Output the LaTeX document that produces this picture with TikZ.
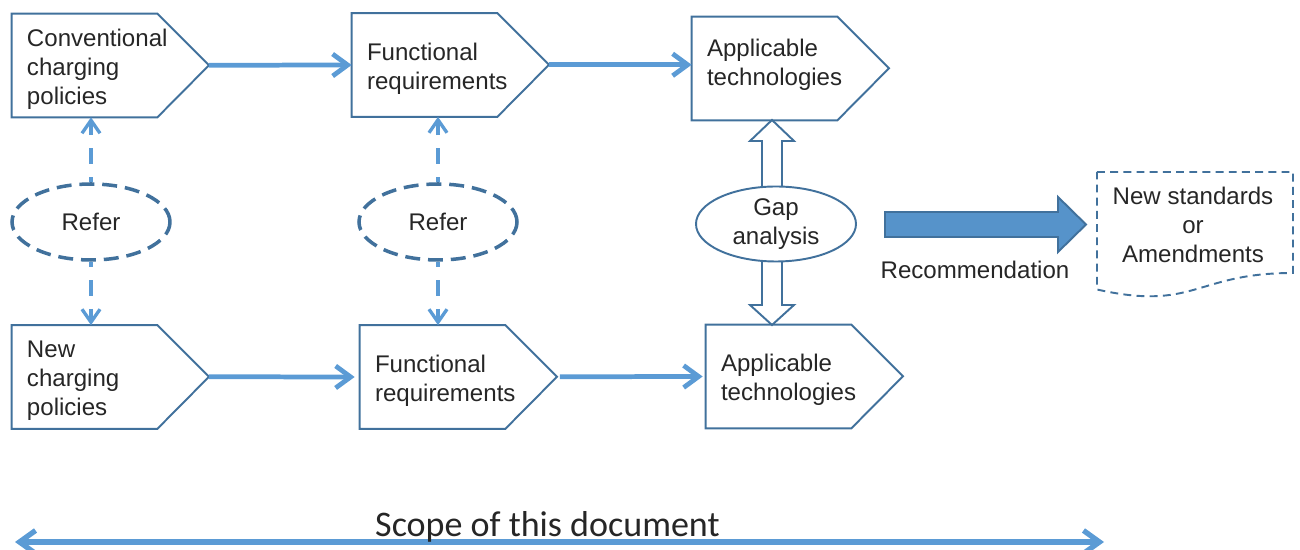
\documentclass[tikz,border=0pt]{standalone}
\usepackage{fontspec}
\setmainfont{Liberation Sans}
\newfontfamily\scopefont{Carlito}
\usetikzlibrary{arrows.meta,shapes.geometric}
\definecolor{edgeblue}{HTML}{41719C}
\definecolor{flowblue}{HTML}{5B9BD5}
\definecolor{inktext}{HTML}{262626}
\tikzset{
  stage/.style={minimum width=2.9cm, minimum height=2.06cm, inner sep=0pt},
  stagetext/.style={text width=2.3cm, inner sep=0pt, align=left,
    font=\fontsize{13.7}{16.4}\selectfont, text=inktext},
  flow/.style={draw=flowblue, line width=2.7pt, -{Straight Barb[length=0.3cm,width=0.44cm]}},
  refer/.style={ellipse, draw=edgeblue, line width=2pt, dash pattern=on 8.5pt off 4.5pt,
    minimum width=3.16cm, minimum height=1.52cm, font=\fontsize{13.7}{16.4}\selectfont, text=inktext},
  referflow/.style={draw=flowblue, line width=1.9pt, dash pattern=on 9pt off 7.4pt, dash phase=6pt,
    -{Straight Barb[length=0.26cm,width=0.36cm]}},
  hollow/.style={draw=edgeblue, line width=1.1pt, fill=white},
}
\newcommand{\stageshape}[1]{\draw[edgeblue, line width=1.1pt] (#1.north west) -- (#1.north east)
  -- ++(-45:1.46) coordinate (#1-tip) -- (#1.south east) -- (#1.south west) -- cycle;}
\begin{document}
\begin{tikzpicture}
        \useasboundingbox (0,0) rectangle (26,11);
        %% top row: conventional policies
        \node[stage] (conv) at (1.69,9.69) {};
        \node[stage] (func1) at (8.49,9.70) {};
        \node[stage] (appl1) at (15.29,9.63) {};
        \stageshape{conv}
        \stageshape{func1}
        \stageshape{appl1}
        \node[stagetext] (conv-text) at ([yshift=-0.08cm]conv.center) {Conventional\\charging\\policies};
        \node[stagetext] (func1-text) at ([yshift=-0.08cm]func1.center) {Functional\\requirements};
        \node[stagetext] (appl1-text) at ([yshift=0.08cm]appl1.center) {Applicable\\technologies};
        \draw[flow] (conv-tip) -- (func1.west);
        \draw[flow] (func1-tip) -- (func1-tip -| appl1.west);
        %% bottom row: new policies
        \node[stage] (new) at (1.69,3.46) {};
        \node[stage] (func2) at (8.65,3.46) {};
        \node[stage] (appl2) at (15.57,3.47) {};
        \stageshape{new}
        \stageshape{func2}
        \stageshape{appl2}
        \node[stagetext] (new-text) at ([yshift=-0.08cm]new.center) {New\\charging\\policies};
        \node[stagetext] (func2-text) at ([yshift=-0.08cm]func2.center) {Functional\\requirements};
        \node[stagetext] (appl2-text) at ([yshift=-0.07cm]appl2.center) {Applicable\\technologies};
        \draw[flow, shorten >=0.1cm] (new-tip) -- (func2.west);
        \draw[flow, shorten <=0.06cm, shorten >=0.06cm] (func2-tip) -- (appl2.west);
        %% refer
        \node[refer] (referA) at (1.82,6.56) {Refer};
        \node[refer] (referB) at (8.76,6.56) {Refer};
        \draw[referflow] (referA.north) -- (referA.north |- conv.south);
        \draw[referflow] (referA.south) -- (referA.south |- new.north);
        \draw[referflow] (referB.north) -- (referB.north |- func1.south);
        \draw[referflow] (referB.south) -- (referB.south |- func2.north);
        %% gap analysis
        \draw[hollow] (15.24,6.52) -- (15.24,8.18) -- (15.0,8.18) -- (15.44,8.6) -- (15.88,8.18)
          -- (15.64,8.18) -- (15.64,6.52);
        \draw[hollow] (15.24,6.52) -- (15.24,4.9) -- (15.0,4.9) -- (15.44,4.5) -- (15.88,4.9)
          -- (15.64,4.9) -- (15.64,6.52);
        \node[ellipse, draw=edgeblue, line width=1.1pt, fill=white, minimum width=3.2cm, minimum height=1.5cm,
          align=center, inner sep=0pt, font=\fontsize{13.7}{16.4}\selectfont, text=inktext] (gap) at (15.52,6.52) {Gap\\analysis};
        %% recommendation
        \draw[edgeblue, line width=1.1pt, fill=flowblue!95!black] (17.7,6.76) -- (21.16,6.76) -- (21.16,7.06) -- (21.72,6.51)
          -- (21.16,5.96) -- (21.16,6.26) -- (17.7,6.26) -- cycle;
        \node[font=\fontsize{13.7}{16.4}\selectfont, text=inktext] (rec) at (19.5,5.6) {Recommendation};
        \draw[edgeblue, line width=1.1pt, dash pattern=on 4.5pt off 3pt] (21.94,7.56) -- (25.86,7.56) -- (25.86,5.54)
          .. controls (23.9,5.54) and (23.9,4.77) .. (21.94,5.21) -- cycle;
        \node[align=center, font=\fontsize{13.7}{16.4}\selectfont, text=inktext] (stds) at (23.86,6.5) {New standards\\or\\Amendments};
        %% scope
        \coordinate (scopeL) at (0.3,0.16);
        \coordinate (scopeR) at (22.08,0.16);
        \draw[draw=flowblue, line width=3pt, {Straight Barb[length=0.32cm,width=0.46cm]}-{Straight Barb[length=0.32cm,width=0.46cm]}] (scopeL) -- (scopeR);
        \node[anchor=base, font=\scopefont\fontsize{20.5}{24}\selectfont, text=inktext] (scope) at (10.95,0.26) {Scope of this document};
    \end{tikzpicture}
\end{document}
